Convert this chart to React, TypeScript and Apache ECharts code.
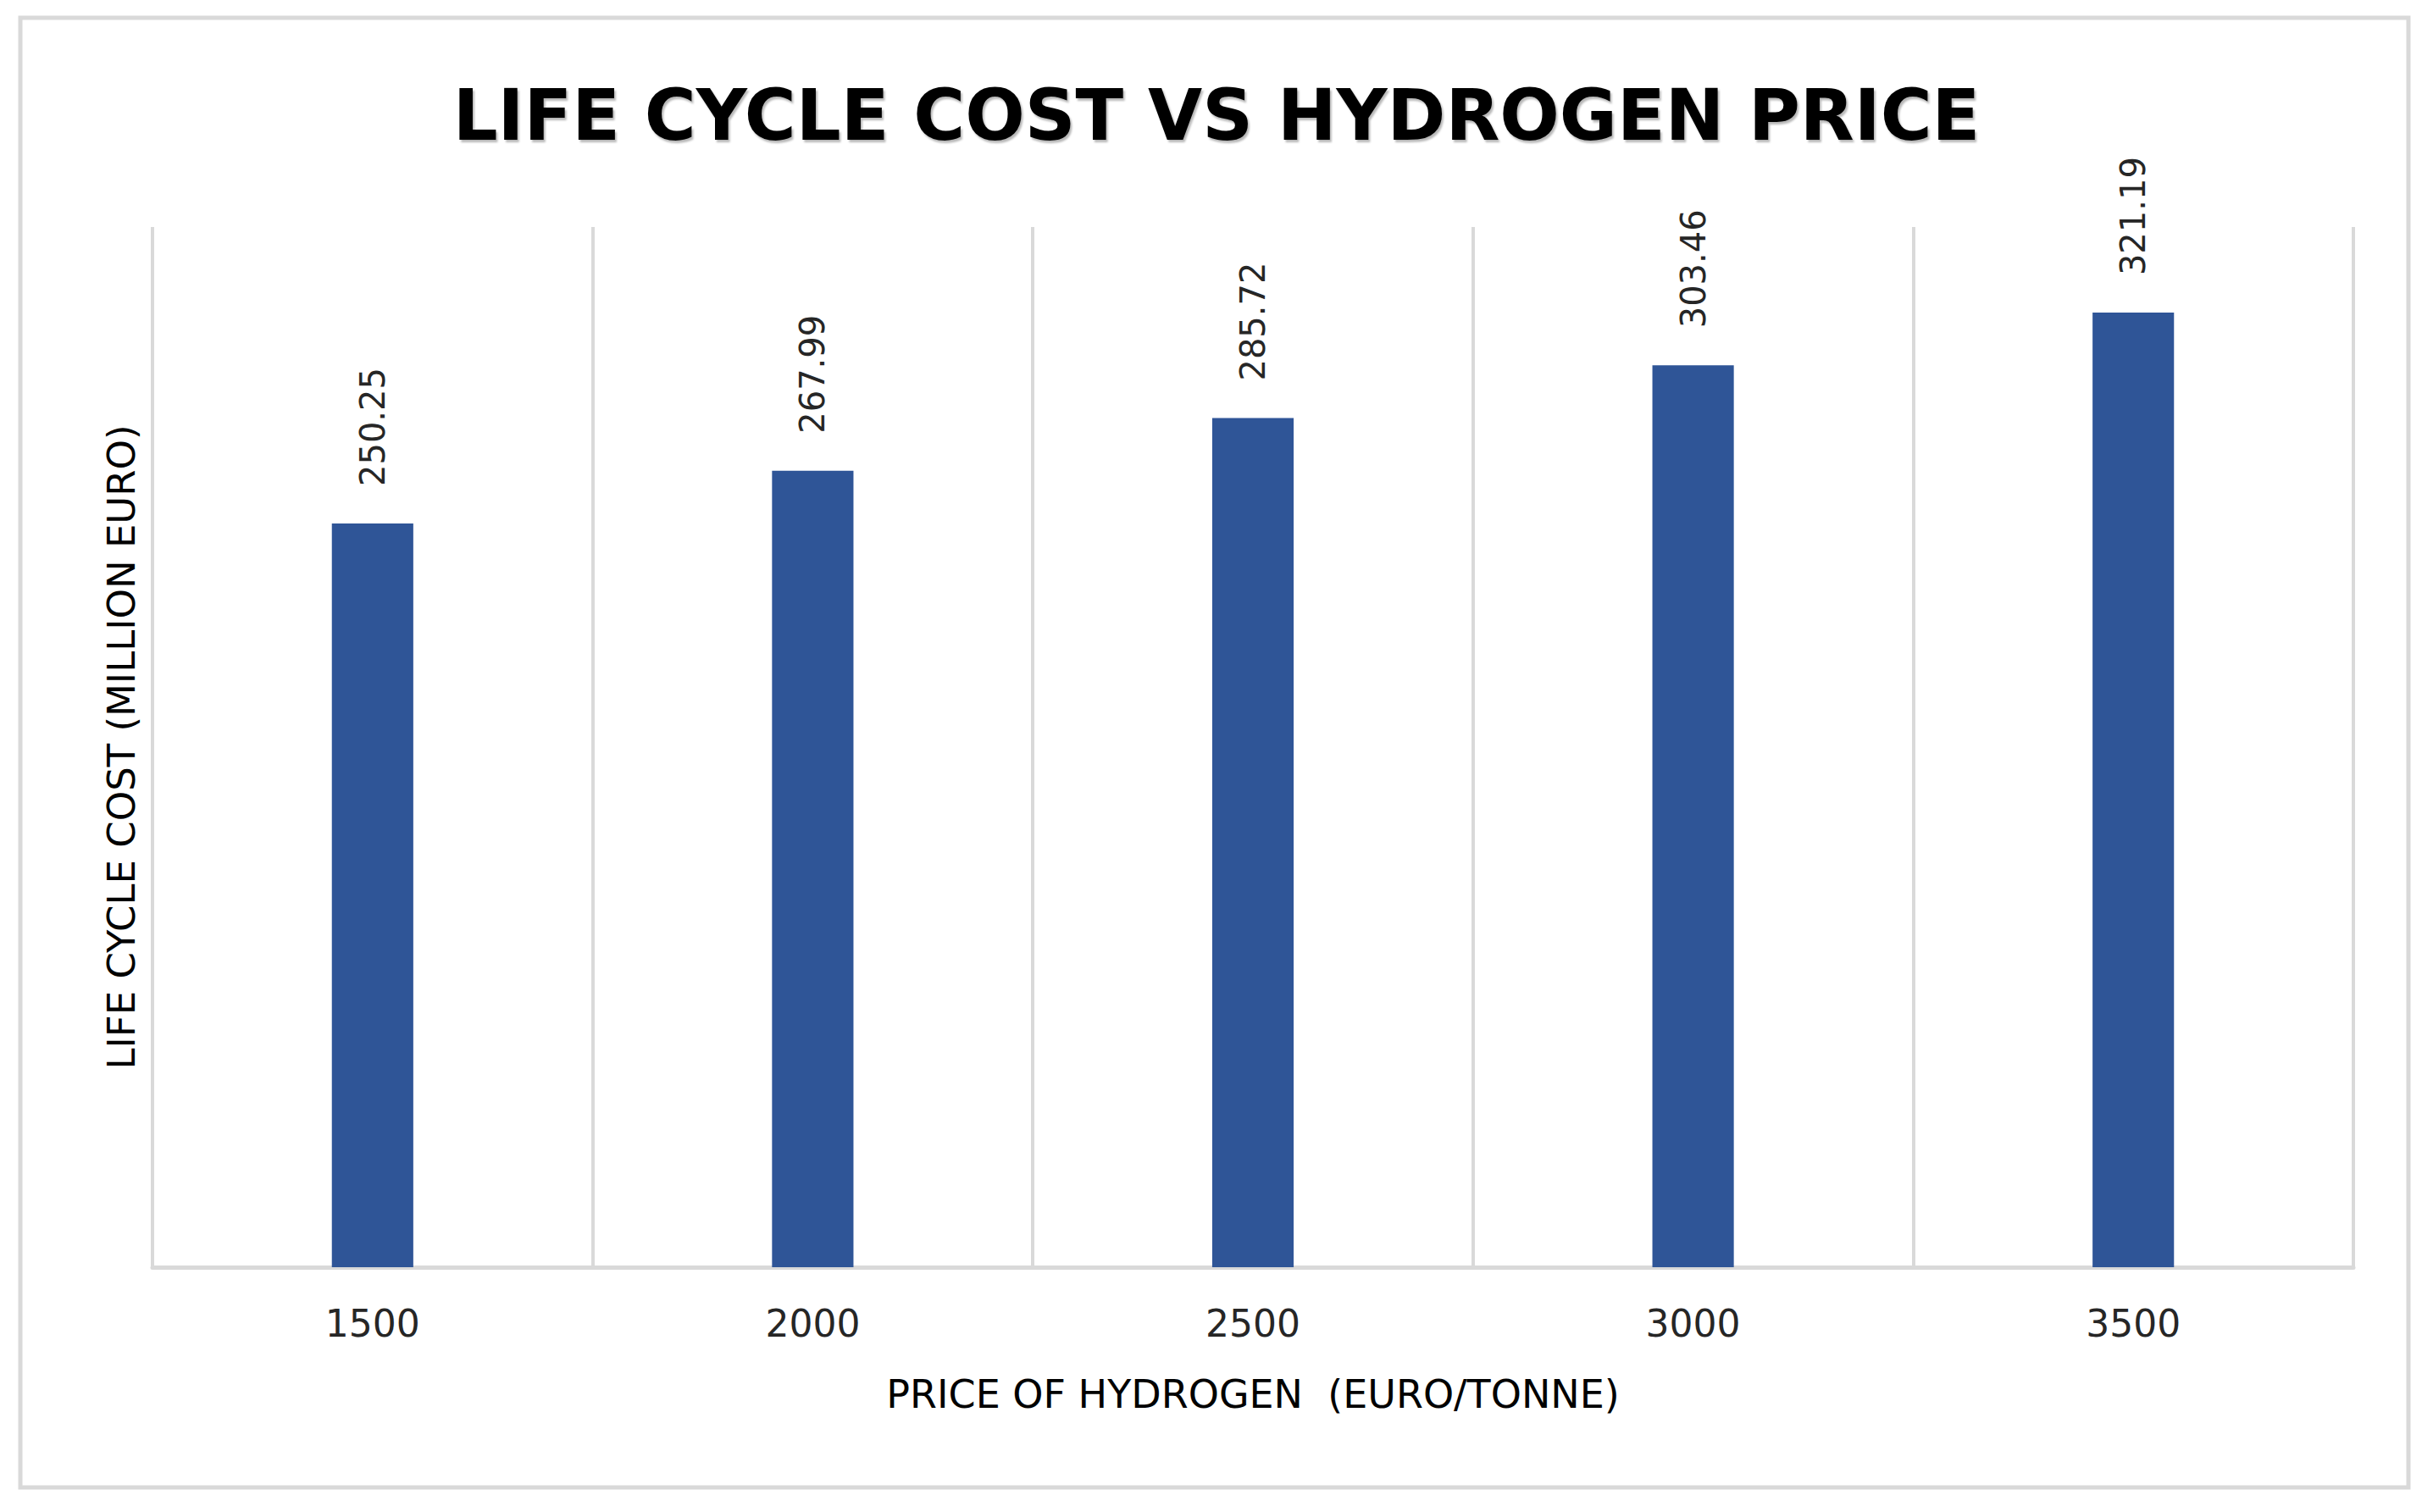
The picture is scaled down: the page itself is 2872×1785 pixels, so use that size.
import React, { useEffect, useRef } from "react";
import * as echarts from "echarts";

const categories = ["1500", "2000", "2500", "3000", "3500"];
const lifeCycleCost = [250.25, 267.99, 285.72, 303.46, 321.19];
const titleText = "LIFE CYCLE COST VS HYDROGEN PRICE";
const xAxisName = "PRICE OF HYDROGEN  (EURO/TONNE)";
const yAxisName = "LIFE CYCLE COST (MILLION EURO)";

export default function App() {
  const ref = useRef<HTMLDivElement>(null);
  useEffect(() => {
    document.body.style.margin = "0";
    if (!ref.current) return;
    const chart = echarts.init(ref.current, null, { renderer: "svg" });
    chart.setOption({
      animation: false,
      backgroundColor: "#ffffff",
      title: {
        text: titleText,
        left: "center",
        top: 90,
        textStyle: {
          fontFamily: "DejaVu Sans",
          fontWeight: "bold",
          fontSize: 83,
          color: "#000000",
          textShadowColor: "rgba(0,0,0,0.28)",
          textShadowOffsetX: 2,
          textShadowOffsetY: 3,
          textShadowBlur: 2,
        },
      },
      graphic: [
        {
          type: "rect",
          shape: { x: 24, y: 21, width: 2819, height: 1735 },
          style: { fill: "none", stroke: "#d9d9d9", lineWidth: 5 },
          silent: true,
        },
      ],
      grid: { left: 180, right: 94, top: 268, bottom: 289, containLabel: false },
      xAxis: {
        type: "category",
        data: categories,
        boundaryGap: true,
        axisLine: { show: true, lineStyle: { color: "#d9d9d9", width: 5 } },
        axisTick: { show: false },
        axisLabel: {
          margin: 44,
          fontFamily: "DejaVu Sans",
          fontSize: 44,
          color: "#262626",
        },
        splitLine: { show: true, interval: 0, lineStyle: { color: "#d9d9d9", width: 4 } },
        name: xAxisName,
        nameLocation: "middle",
        nameGap: 127,
        nameTextStyle: { fontFamily: "DejaVu Sans", fontSize: 46, color: "#000000" },
      },
      yAxis: {
        type: "value",
        min: 0,
        max: 350,
        interval: 50,
        axisLine: { show: false },
        axisTick: { show: false },
        axisLabel: { show: false },
        splitLine: { show: false },
        name: yAxisName,
        nameLocation: "middle",
        nameGap: 14,
        nameTextStyle: { fontFamily: "DejaVu Sans", fontSize: 45, color: "#000000" },
      },
      series: [
        {
          type: "bar",
          data: lifeCycleCost,
          barWidth: "18.5%",
          itemStyle: { color: "#2f5597" },
          label: {
            show: true,
            position: "top",
            rotate: 90,
            align: "left",
            verticalAlign: "middle",
            distance: 44,
            fontFamily: "DejaVu Sans",
            fontSize: 40,
            color: "#262626",
            formatter: (p: any) => p.value.toFixed(2),
          },
        },
      ],
    });
    return () => chart.dispose();
  }, []);
  return <div ref={ref} style={{ width: 2872, height: 1785 }} />;
}
